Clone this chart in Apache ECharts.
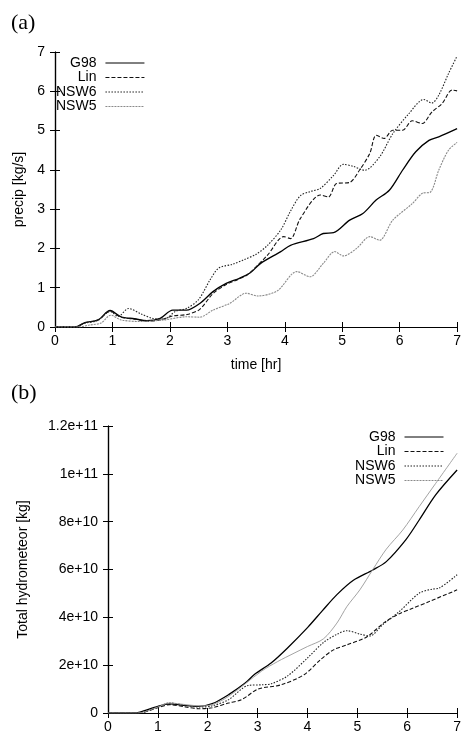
<!DOCTYPE html>
<html>
<head>
<meta charset="utf-8">
<script src="https://cdn.jsdelivr.net/npm/echarts@6/dist/echarts.min.js"></script>
<style>
  html, body { margin: 0; padding: 0; background: #fff; }
  #main { width: 464px; height: 738px; }
</style>
</head>
<body>
<div id="main"></div>
<script>
// panel (a): precipitation [kg/s] vs time [hr]
const tG98a = [0, 0.35, 0.52, 0.75, 0.96, 1.15, 1.38, 1.6, 1.83, 2.05, 2.29, 2.52, 2.75, 2.98, 3.21, 3.4, 3.58, 3.93, 4.1, 4.5, 4.67, 4.85, 5.13, 5.36, 5.59, 5.82, 6.05, 6.28, 6.51, 6.68, 7.0];
const g98a  = [0, 0, 0.11, 0.18, 0.42, 0.26, 0.21, 0.16, 0.22, 0.43, 0.43, 0.60, 0.90, 1.11, 1.24, 1.38, 1.62, 1.92, 2.08, 2.25, 2.38, 2.40, 2.72, 2.89, 3.23, 3.48, 3.99, 4.46, 4.75, 4.84, 5.05];

const tLina = [0, 0.35, 0.52, 0.75, 0.96, 1.15, 1.4, 1.6, 1.83, 2.05, 2.3, 2.52, 2.75, 2.98, 3.2, 3.35, 3.7, 3.98, 4.1, 4.27, 4.62, 4.76, 4.9, 5.13, 5.3, 5.48, 5.59, 5.73, 5.88, 6.05, 6.22, 6.39, 6.56, 6.74, 6.91, 7.0];
const lina  = [0, 0, 0.10, 0.18, 0.40, 0.25, 0.20, 0.15, 0.18, 0.28, 0.32, 0.45, 0.85, 1.08, 1.22, 1.33, 1.83, 2.30, 2.25, 2.76, 3.36, 3.31, 3.65, 3.68, 3.99, 4.42, 4.88, 4.80, 5.01, 5.01, 5.25, 5.18, 5.47, 5.69, 6.03, 6.01];

const tNsw6a = [0, 0.35, 0.52, 0.75, 0.96, 1.1, 1.28, 1.5, 1.7, 1.9, 2.1, 2.3, 2.5, 2.7, 2.85, 3.1, 3.3, 3.5, 3.7, 3.93, 4.1, 4.27, 4.45, 4.62, 4.85, 5.02, 5.19, 5.39, 5.65, 5.88, 6.16, 6.42, 6.56, 6.68, 6.85, 7.0];
const nsw6a  = [0, 0, 0.10, 0.17, 0.40, 0.27, 0.47, 0.33, 0.22, 0.20, 0.40, 0.48, 0.70, 1.20, 1.50, 1.60, 1.72, 1.85, 2.08, 2.47, 2.95, 3.34, 3.45, 3.53, 3.86, 4.14, 4.09, 3.99, 4.33, 4.92, 5.43, 5.79, 5.70, 5.90, 6.45, 6.90];

const tNsw5a = [0, 0.4, 0.6, 0.8, 0.97, 1.15, 1.49, 1.9, 2.29, 2.52, 2.75, 3.04, 3.33, 3.53, 3.87, 4.21, 4.44, 4.67, 4.87, 5.02, 5.25, 5.48, 5.65, 5.88, 6.22, 6.39, 6.54, 6.68, 6.85, 7.0];
const nsw5a  = [0, 0, 0.05, 0.10, 0.30, 0.18, 0.14, 0.18, 0.26, 0.25, 0.43, 0.60, 0.86, 0.79, 0.92, 1.41, 1.28, 1.62, 1.92, 1.81, 2.00, 2.30, 2.21, 2.72, 3.14, 3.40, 3.44, 3.99, 4.50, 4.70];

// panel (b): total hydrometeor, values in units of 1e10 kg
const SCALE_B = 1e10;
const tG98b = [0, 0.5, 0.64, 1.0, 1.23, 1.56, 1.82, 2.09, 2.42, 2.75, 2.94, 3.27, 3.6, 4.0, 4.3, 4.59, 4.92, 5.31, 5.58, 5.97, 6.24, 6.57, 7.0];
const g98b  = [0, 0, 0.04, 0.28, 0.38, 0.31, 0.28, 0.39, 0.77, 1.25, 1.62, 2.09, 2.72, 3.57, 4.28, 4.95, 5.55, 5.98, 6.33, 7.24, 8.07, 9.12, 10.16];

const tLinb = [0, 0.6, 1.0, 1.23, 1.56, 1.82, 2.09, 2.42, 2.68, 3.01, 3.47, 3.93, 4.26, 4.52, 4.79, 5.18, 5.55, 5.84, 6.11, 6.44, 7.0];
const linb  = [0, 0, 0.22, 0.35, 0.25, 0.18, 0.22, 0.42, 0.56, 1.00, 1.18, 1.60, 2.23, 2.64, 2.85, 3.17, 3.80, 4.15, 4.38, 4.66, 5.15];

const tNsw6b = [0, 0.6, 1.0, 1.23, 1.56, 1.82, 2.09, 2.42, 2.81, 3.08, 3.27, 3.6, 4.0, 4.32, 4.6, 4.79, 5.05, 5.25, 5.51, 5.84, 6.24, 6.5, 6.64, 7.0];
const nsw6b  = [0, 0, 0.25, 0.42, 0.32, 0.25, 0.30, 0.56, 1.15, 1.18, 1.22, 1.55, 2.30, 2.95, 3.30, 3.44, 3.30, 3.22, 3.70, 4.24, 5.01, 5.18, 5.22, 5.78];

const tNsw5b = [0, 0.6, 1.0, 1.23, 1.56, 1.82, 2.09, 2.42, 3.08, 3.4, 3.73, 4.0, 4.32, 4.59, 4.79, 5.05, 5.31, 5.58, 5.91, 6.24, 6.57, 7.0];
const nsw5b  = [0, 0, 0.25, 0.42, 0.35, 0.30, 0.35, 0.70, 1.75, 2.15, 2.50, 2.78, 3.10, 3.76, 4.45, 5.15, 6.00, 6.85, 7.65, 8.63, 9.60, 10.86];

const seriesNames = ['G98', 'Lin', 'NSW6', 'NSW5'];
const yTickLabelsB = ['0', '2e+10', '4e+10', '6e+10', '8e+10', '1e+11', '1.2e+11'];

const FONT = 'Liberation Sans, Arial, sans-serif';

function pairs(ts, vs, scale) {
    return ts.map((t, i) => [t, vs[i] * (scale || 1)]);
}

const lineStyles = {
    G98:  { color: '#000', width: 1.3, type: 'solid' },
    Lin:  { color: '#111', width: 1.1, type: [4, 2] },
    NSW6: { color: '#222', width: 1.1, type: [1.5, 1.5] },
    NSW5: { color: '#8a8a8a', width: 1.1, type: [2, 1] }
};

function mkSeries(name, data, axis, styleOverride) {
    return {
        name: name,
        type: 'line',
        xAxisIndex: axis,
        yAxisIndex: axis,
        data: data,
        showSymbol: false,
        symbol: 'none',
        smooth: 0.3,
        animation: false,
        lineStyle: Object.assign({}, lineStyles[name], styleOverride || {}),
        itemStyle: { color: lineStyles[name].color }
    };
}

const axisLine = { show: true, lineStyle: { color: '#000', width: 1.2 } };
const axisTick = { show: true, inside: true, length: 5, lineStyle: { color: '#000', width: 1 } };
const axisLabel = { color: '#000', fontSize: 14, fontFamily: FONT };
const nameStyle = { color: '#000', fontSize: 14, fontFamily: FONT };

function xAx(grid, pos, labels, name, gap) {
    return {
        type: 'value', gridIndex: grid, position: pos, min: 0, max: 7, interval: 1,
        axisLine: axisLine, axisTick: axisTick, splitLine: { show: false },
        axisLabel: Object.assign({ show: labels, margin: 7 }, axisLabel),
        name: name || '', nameLocation: 'middle', nameGap: gap || 0, nameTextStyle: nameStyle
    };
}

function yAx(grid, pos, labels, max, interval, name, gap, fmt) {
    return {
        type: 'value', gridIndex: grid, position: pos, min: 0, max: max, interval: interval,
        axisLine: axisLine, axisTick: axisTick, splitLine: { show: false },
        axisLabel: Object.assign({ show: labels, margin: 10, formatter: fmt }, axisLabel),
        name: name || '', nameLocation: 'middle', nameGap: gap || 0, nameTextStyle: nameStyle
    };
}

function mkLegend(pos) {
    return Object.assign({
        data: seriesNames, orient: 'vertical', align: 'right',
        padding: 0, itemGap: 0.5, itemWidth: 39, itemHeight: 14,
        itemStyle: { opacity: 0 },
        lineStyle: { width: 1 },
        textStyle: { color: '#000', fontSize: 14, fontFamily: FONT, padding: [0, 4, 0, 0] },
        selectedMode: false
    }, pos);
}

const chart = echarts.init(document.getElementById('main'), null, { renderer: 'canvas' });

const option = {
    backgroundColor: '#fff',
    animation: false,
    title: [
        { text: '(a)', left: 6, top: 7, textStyle: { fontFamily: 'Liberation Serif, serif', fontSize: 22, fontWeight: 'normal', color: '#000' } },
        { text: '(b)', left: 6, top: 377, textStyle: { fontFamily: 'Liberation Serif, serif', fontSize: 22, fontWeight: 'normal', color: '#000' } }
    ],
    grid: [
        { left: 55, top: 52, width: 407, height: 275 },
        { left: 108, top: 426, width: 354, height: 287 }
    ],
    legend: [
        mkLegend({ left: 56, top: 56 }),
        mkLegend({ right: 20, top: 430 })
    ],
    xAxis: [
        xAx(0, 'bottom', true, 'time [hr]', 31),
        xAx(0, 'top', false),
        xAx(1, 'bottom', true),
        xAx(1, 'top', false)
    ],
    yAxis: [
        yAx(0, 'left', true, 7, 1, 'precip [kg/s]', 29),
        yAx(0, 'right', false, 7, 1),
        yAx(1, 'left', true, 12 * SCALE_B, 2 * SCALE_B, 'Total hydrometeor [kg]', 78,
            v => yTickLabelsB[Math.round(v / (2 * SCALE_B))]),
        yAx(1, 'right', false, 12 * SCALE_B, 2 * SCALE_B)
    ],
    series: [
        mkSeries('G98', pairs(tG98a, g98a), 0),
        mkSeries('Lin', pairs(tLina, lina), 0),
        mkSeries('NSW6', pairs(tNsw6a, nsw6a), 0),
        mkSeries('NSW5', pairs(tNsw5a, nsw5a), 0),
        mkSeries('G98', pairs(tG98b, g98b, SCALE_B), 2),
        mkSeries('Lin', pairs(tLinb, linb, SCALE_B), 2),
        mkSeries('NSW6', pairs(tNsw6b, nsw6b, SCALE_B), 2),
        mkSeries('NSW5', pairs(tNsw5b, nsw5b, SCALE_B), 2, { type: 'solid', width: 0.9, color: '#999' })
    ]
};

chart.setOption(option);
</script>
</body>
</html>
